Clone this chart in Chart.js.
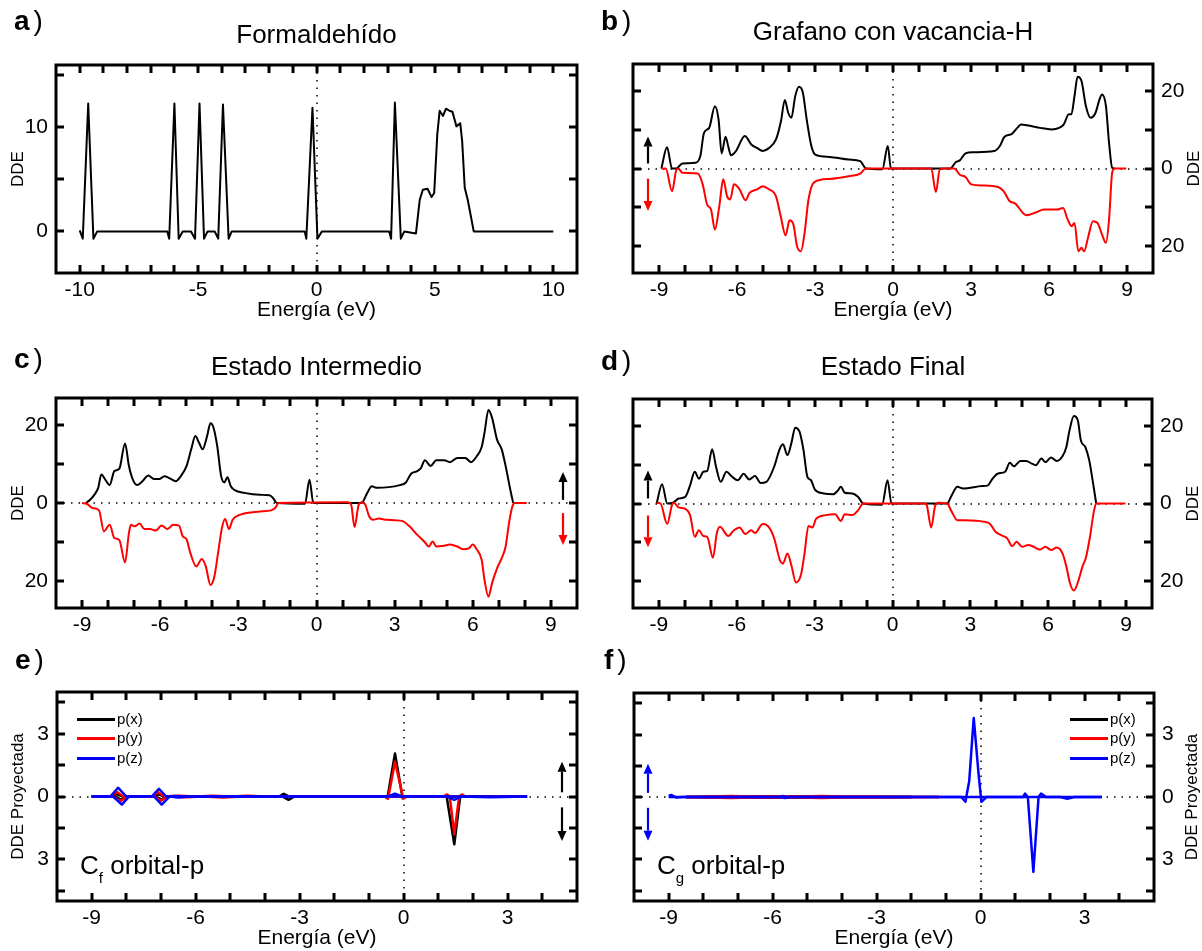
<!DOCTYPE html>
<html><head><meta charset="utf-8">
<script src="https://cdn.jsdelivr.net/npm/chart.js@4.4.1/dist/chart.umd.min.js"></script>
<style>
html,body{margin:0;padding:0;background:#fff;}
body{width:1202px;height:951px;position:relative;overflow:hidden;font-family:"Liberation Sans",Arial,sans-serif;color:#000;}
.lbl{position:absolute;white-space:nowrap;line-height:1;}
.ttl{position:absolute;white-space:nowrap;line-height:1;text-align:center;width:500px;font-size:26px;}
.lg{position:absolute;height:3px;}
</style></head><body>
<script>
// ---------------- DATA ----------------
// Panel a: Formaldehído  [energy eV, DOS]
const aDOS = [[-10.0,0.1],[-9.87,-0.7],[-9.64,12.3],[-9.42,-0.7],[-9.26,0],[-6.3,0],[-6.22,-0.7],[-6.0,12.3],[-5.82,-0.7],[-5.65,0],[-5.3,0],[-5.13,-0.7],[-4.94,12.3],[-4.75,-0.7],[-4.6,0],[-4.3,0],[-4.15,-0.7],[-3.95,12.2],[-3.71,-0.7],[-3.58,0],[-0.5,0],[-0.43,-0.7],[-0.17,11.9],[0.04,-0.7],[0.23,0],[3.07,0],[3.15,-0.7],[3.31,12.4],[3.56,-0.7],[3.71,0],[4.2,-0.2],[4.36,3.05],[4.49,4.0],[4.69,4.1],[4.86,3.3],[4.97,3.7],[5.1,9.3],[5.2,11.6],[5.34,11.1],[5.47,11.8],[5.61,11.6],[5.74,11.5],[5.91,10.1],[6.07,10.4],[6.15,8.7],[6.26,4.2],[6.39,3.0],[6.64,0],[10.0,0]];

// Panel b: Grafano con vacancia-H (spin up / spin down)
const bUp = [[-8.91,0],[-8.69,5.5],[-8.5,0],[-8.33,0],[-8.1,1.3],[-7.59,1.5],[-7.41,3.2],[-7.27,9.2],[-7.07,10.5],[-6.85,16.1],[-6.71,12.7],[-6.59,3.9],[-6.44,8.2],[-6.34,5.8],[-6.23,3.4],[-6.04,4.5],[-5.7,8.4],[-5.45,6.2],[-5.23,5.3],[-5.01,4.5],[-4.79,5.2],[-4.5,7.5],[-4.31,12.2],[-4.16,17.7],[-4.03,14.4],[-3.91,13.1],[-3.76,18.7],[-3.62,21.1],[-3.47,19.7],[-3.32,12.7],[-3.14,5.8],[-2.99,3.6],[-2.44,3.0],[-1.7,2.3],[-1.26,1.9],[-1.04,0],[-0.41,-0.2],[-0.2,5.8],[-0.08,0],[2.2,0],[2.42,1.7],[2.57,2.1],[2.79,3.9],[3.08,4.2],[3.89,4.5],[4.11,5.8],[4.29,8.2],[4.56,8.9],[4.78,10.5],[4.92,11.4],[5.22,11.1],[5.66,10.5],[6.1,10.1],[6.39,10.5],[6.57,11.4],[6.76,14.0],[6.86,14.0],[6.98,18.7],[7.1,23.7],[7.25,22.6],[7.42,16.1],[7.6,13.1],[7.79,14.4],[7.94,17.8],[8.04,19.1],[8.19,16.1],[8.31,6.6],[8.43,0.2],[8.53,0]];
const bDn = [[-8.91,0],[-8.74,0],[-8.5,-5.9],[-8.33,-0.3],[-8.26,0],[-8.1,-1.1],[-7.51,-1.3],[-7.32,-4.1],[-7.15,-9.3],[-7.0,-10.6],[-6.85,-15.8],[-6.68,-9.7],[-6.53,-2.8],[-6.38,-7.2],[-6.26,-8.0],[-6.12,-4.1],[-5.9,-5.4],[-5.67,-8.2],[-5.52,-6.3],[-5.23,-5.4],[-5.01,-4.6],[-4.79,-5.3],[-4.5,-7.2],[-4.32,-12.3],[-4.13,-17.3],[-3.98,-13.4],[-3.83,-14.5],[-3.69,-20.1],[-3.54,-21.4],[-3.4,-16.6],[-3.25,-8.0],[-3.03,-3.5],[-2.44,-2.7],[-1.7,-2.0],[-1.26,-1.3],[-1.04,0],[1.47,0],[1.65,-6.1],[1.8,-0.2],[1.98,0],[2.35,0],[2.57,-1.6],[2.79,-2.2],[3.01,-4.1],[3.45,-4.4],[4.04,-4.8],[4.26,-5.9],[4.48,-8.4],[4.71,-9.1],[5.0,-11.5],[5.14,-12.1],[5.51,-11.3],[5.8,-10.6],[6.32,-10.6],[6.54,-10.2],[6.72,-13.2],[6.87,-14.9],[6.98,-14.1],[7.13,-21.4],[7.25,-20.5],[7.35,-21.4],[7.5,-17.9],[7.69,-13.6],[7.87,-14.1],[8.04,-17.1],[8.19,-19.2],[8.31,-13.2],[8.43,-1.1],[8.53,0],[8.97,0]];

// Panel c: Estado Intermedio
const cUp = [[-8.85,0],[-8.68,0.9],[-8.53,2.1],[-8.38,3.9],[-8.26,7.3],[-8.11,6.0],[-7.94,4.6],[-7.76,8.2],[-7.57,8.8],[-7.35,15.3],[-7.2,9.5],[-7.05,6.0],[-6.88,4.6],[-6.68,5.6],[-6.46,7.1],[-6.24,6.2],[-6.02,6.2],[-5.84,6.9],[-5.65,6.4],[-5.4,5.6],[-5.21,6.9],[-4.99,9.5],[-4.81,13.8],[-4.65,17.2],[-4.51,15.5],[-4.37,13.8],[-4.2,17.2],[-4.07,20.5],[-3.95,19.3],[-3.81,14.6],[-3.66,6.9],[-3.54,5.3],[-3.42,6.6],[-3.29,4.3],[-3.14,3.3],[-2.77,2.6],[-2.18,2.1],[-1.81,2.0],[-1.67,1.3],[-1.52,0],[-0.44,-0.2],[-0.27,6.0],[-0.12,0],[1.73,0],[1.95,2.6],[2.12,4.3],[2.32,3.9],[3.2,4.6],[3.42,5.2],[3.64,7.6],[3.87,8.2],[4.01,9.0],[4.16,11.0],[4.38,9.5],[4.6,11.0],[4.9,11.0],[5.12,10.5],[5.41,11.6],[5.71,11.6],[5.93,10.5],[6.15,12.0],[6.34,14.4],[6.45,18.1],[6.6,23.9],[6.74,21.9],[6.93,16.3],[7.11,13.8],[7.26,9.5],[7.44,3.4],[7.55,0]];
const cDn = [[-9.0,0],[-8.82,-0.2],[-8.6,-1.3],[-8.35,-1.9],[-8.16,-7.3],[-7.94,-5.6],[-7.76,-9.0],[-7.57,-9.5],[-7.35,-15.3],[-7.2,-7.7],[-7.12,-5.6],[-6.98,-6.0],[-6.79,-5.3],[-6.61,-6.7],[-6.39,-6.7],[-6.17,-7.1],[-5.95,-5.8],[-5.72,-6.7],[-5.5,-5.6],[-5.28,-5.8],[-5.13,-8.6],[-4.99,-9.3],[-4.84,-12.9],[-4.62,-16.3],[-4.4,-14.4],[-4.25,-16.3],[-4.07,-21.1],[-3.92,-18.9],[-3.78,-12.9],[-3.63,-6.4],[-3.51,-4.1],[-3.36,-6.7],[-3.22,-4.3],[-2.92,-3.0],[-2.18,-2.2],[-1.74,-1.9],[-1.59,-1.3],[-1.45,0],[1.21,0.2],[1.33,-0.4],[1.46,-6.2],[1.62,-0.4],[1.73,0.2],[1.87,-0.4],[2.02,-3.4],[2.17,-4.3],[2.39,-4.0],[2.69,-4.3],[3.28,-4.6],[3.57,-6.0],[3.87,-8.2],[4.16,-10.1],[4.31,-11.2],[4.46,-9.9],[4.6,-11.2],[4.9,-11.0],[5.12,-10.7],[5.41,-11.2],[5.64,-11.9],[5.86,-11.6],[6.0,-10.7],[6.15,-11.9],[6.34,-14.6],[6.45,-19.8],[6.6,-24.1],[6.74,-20.6],[6.93,-16.8],[7.11,-14.2],[7.26,-11.2],[7.41,-4.3],[7.55,-0.3],[7.63,0],[8.07,0]];

// Panel d: Estado Final
const dUp = [[-9.09,0],[-8.88,5.0],[-8.68,0],[-8.46,0.2],[-8.24,1.3],[-7.99,1.7],[-7.8,4.7],[-7.62,8.2],[-7.46,6.4],[-7.29,8.2],[-7.14,8.4],[-6.95,14.0],[-6.8,9.5],[-6.62,5.6],[-6.4,8.2],[-6.18,6.9],[-5.96,6.0],[-5.74,7.7],[-5.52,6.2],[-5.3,7.1],[-5.08,5.3],[-4.86,5.6],[-4.56,9.5],[-4.34,14.2],[-4.22,15.3],[-4.05,12.5],[-3.9,15.5],[-3.75,19.6],[-3.58,18.5],[-3.43,13.8],[-3.28,6.9],[-3.14,6.0],[-2.99,3.6],[-2.65,2.6],[-2.28,2.4],[-2.1,3.4],[-1.99,4.3],[-1.84,2.8],[-1.55,2.6],[-1.32,1.7],[-1.13,0],[-0.4,-0.3],[-0.19,6.0],[-0.04,0],[2.1,0],[2.28,2.1],[2.5,4.3],[2.72,3.9],[3.46,4.5],[3.68,4.7],[3.83,6.2],[4.05,7.7],[4.34,8.2],[4.52,10.5],[4.68,9.6],[4.93,11.0],[5.15,11.0],[5.37,10.3],[5.52,9.9],[5.74,11.6],[5.89,10.7],[6.11,11.9],[6.33,11.0],[6.55,12.2],[6.7,14.6],[6.81,18.5],[6.99,22.6],[7.14,21.5],[7.26,16.3],[7.43,14.6],[7.58,11.2],[7.73,5.2],[7.85,0]];
const dDn = [[-9.09,0.2],[-8.94,0],[-8.68,-5.3],[-8.5,-0.4],[-8.43,0.2],[-8.24,-1.0],[-7.95,-1.5],[-7.8,-3.0],[-7.62,-8.6],[-7.46,-6.9],[-7.29,-8.4],[-7.14,-8.6],[-6.92,-14.0],[-6.77,-7.7],[-6.65,-6.0],[-6.33,-8.4],[-6.11,-6.9],[-5.89,-6.2],[-5.67,-7.9],[-5.45,-6.9],[-5.3,-7.6],[-5.0,-5.3],[-4.78,-6.0],[-4.56,-9.0],[-4.34,-14.6],[-4.22,-15.5],[-4.05,-12.9],[-3.9,-15.9],[-3.72,-20.4],[-3.53,-18.5],[-3.39,-12.9],[-3.24,-5.8],[-3.09,-6.2],[-2.94,-3.9],[-2.58,-3.0],[-2.21,-2.8],[-1.99,-4.5],[-1.84,-2.8],[-1.55,-3.0],[-1.32,-1.7],[-1.13,0],[1.25,0],[1.32,-0.4],[1.49,-6.2],[1.65,-0.4],[1.77,0.2],[2.1,0],[2.28,-2.1],[2.5,-4.3],[2.8,-4.3],[3.53,-4.7],[3.75,-5.2],[3.97,-7.3],[4.19,-8.2],[4.42,-9.0],[4.61,-11.0],[4.78,-9.9],[5.0,-11.2],[5.23,-10.7],[5.45,-11.2],[5.67,-11.9],[5.89,-11.2],[6.11,-12.0],[6.33,-11.4],[6.55,-12.9],[6.7,-16.3],[6.84,-20.6],[6.99,-22.5],[7.17,-19.8],[7.32,-16.3],[7.46,-13.8],[7.61,-8.6],[7.76,-2.1],[7.85,0],[8.98,0]];

// Panel e: C_f orbital-p (projected DOS)
const ePxUp = [[-9,0],[-8.45,0],[-8.28,0.12],[-8.1,0],[-7.2,0],[-7.08,0.1],[-6.9,0],[-3.6,0],[-3.46,0.13],[-3.3,0],[-0.55,0],[-0.47,-0.08],[-0.25,2.06],[-0.03,-0.08],[0.05,0],[3.56,0]];
const ePxDn = [[-9,0],[-8.35,0],[-8.15,-0.15],[-7.95,0],[-7.15,0],[-6.98,-0.15],[-6.8,0],[-3.5,0],[-3.32,-0.16],[-3.15,0],[1.24,0],[1.46,-2.29],[1.63,0],[3.56,0]];
const ePyUp = [[-9,0],[-8.45,0],[-8.27,0.22],[-8.08,0],[-7.25,0],[-7.08,0.2],[-6.9,0],[-6.5,0.03],[-6,0],[-5.5,0.04],[-5,0],[-4.5,0.04],[-4,0],[-0.55,0],[-0.45,-0.1],[-0.25,1.66],[-0.01,-0.1],[0.1,0],[3.56,0]];
const ePyDn = [[-9,0],[-8.4,0],[-8.17,-0.22],[-7.97,0],[-7.2,0],[-7.0,-0.2],[-6.8,0],[-6.3,-0.04],[-5.8,0],[-5.2,-0.05],[-4.7,0],[1.15,0],[1.25,0.1],[1.33,0],[1.46,-1.8],[1.6,0],[1.68,0.1],[1.78,0],[3.56,0]];
const ePzUp = [[-9,0],[-8.46,0],[-8.24,0.42],[-8.0,0],[-7.27,0],[-7.06,0.37],[-6.85,0],[-6.6,0.03],[-6.3,0],[-0.45,0],[-0.25,0.13],[-0.05,0],[3.56,0]];
const ePzDn = [[-9,0],[-8.38,0],[-8.13,-0.39],[-7.92,0],[-7.2,0],[-6.98,-0.39],[-6.75,0],[-6.5,-0.05],[-6.2,0],[1.25,0],[1.46,-0.16],[1.65,0],[2.5,-0.03],[3.56,0]];

// Panel f: C_g orbital-p (projected DOS)
const fPxUp = [[-8.5,0],[-7.6,0.02],[-7.0,0.03],[-6.0,0.02],[-5.0,0.02],[-4.0,0.01],[-2.0,0]];
const fPxDn = [[-8.5,0],[-7.6,-0.02],[-7.0,-0.03],[-6.0,-0.02],[-5.0,-0.02],[-4.0,-0.01],[-2.0,0]];
const fPyUp = [[-8.5,0],[-7.8,0.03],[-7.2,0.05],[-6.6,0.02],[-5.8,0.04],[-5.2,0.02],[-4.6,0.05],[-4.0,0.02],[-3.2,0.02],[-2.2,0.01],[-1.2,0]];
const fPyDn = [[-8.5,0],[-7.8,-0.03],[-7.2,-0.05],[-6.6,-0.02],[-5.8,-0.03],[-5.2,-0.02],[-4.6,-0.05],[-4.0,-0.02],[-3.2,-0.02],[-2.2,-0.01],[-1.2,0]];
const fPzUp = [[-9,0.05],[-8.93,0.1],[-8.78,-0.03],[-8.6,0],[-5.8,0],[-5.7,0.05],[-5.6,0],[-0.56,0],[-0.44,-0.23],[-0.33,0.77],[-0.2,3.8],[-0.06,1.1],[0.02,-0.23],[0.17,0],[3.5,0]];
const fPzDn = [[-9,0],[-5.8,0],[-5.65,-0.05],[-5.5,0],[1.22,0],[1.28,0.16],[1.36,0],[1.52,-3.6],[1.67,0],[1.74,0.16],[1.89,0],[2.3,0],[2.5,-0.08],[2.7,0],[3.5,0]];

// Tick labels
const aXLabels = [-10, -5, 0, 5, 10];
const aYLabels = [0, 10];
const bcdXLabels = [-9, -6, -3, 0, 3, 6, 9];
const bcdYLabels = [-20, 0, 20];
const efXLabels = [-9, -6, -3, 0, 3];
const efYLabels = [-3, 0, 3];
const orbitalNames = ['p(x)', 'p(y)', 'p(z)'];
const panelTitles = ['Formaldehído', 'Grafano con vacancia-H', 'Estado Intermedio', 'Estado Final'];
const panelLetters = ['a', 'b', 'c', 'd', 'e', 'f'];

// ---------------- RENDERING ----------------
const FONT = '"Liberation Sans", Arial, sans-serif';
Chart.defaults.font.family = FONT;
Chart.defaults.color = '#000';
const BLACK = '#000000', RED = '#ff0000', BLUE = '#0000ff';

function pts(a) { return a.map(p => ({x: p[0], y: p[1]})); }
function has(list, v) { return list.some(l => Math.abs(l - v) < 1e-6); }
function stepTicks(min, max, step) {
  const out = [];
  for (let k = Math.ceil(min / step - 1e-9); k * step <= max + 1e-9; k++) {
    const v = Math.round(k * step * 1000) / 1000;
    if (v > min + 1e-9 && v < max - 1e-9) out.push({value: v});
  }
  return out;
}

const framePlugin = {
  id: 'frame',
  beforeDatasetsDraw(chart, _a, o) {
    const {ctx, chartArea: a} = chart; const x = chart.scales.x, y = chart.scales.y;
    ctx.save(); ctx.strokeStyle = '#000'; ctx.lineWidth = 1.5; ctx.setLineDash([1.5, 6]);
    ctx.beginPath();
    if (o.zeroH) { const py = Math.round(y.getPixelForValue(0)); ctx.moveTo(a.left, py); ctx.lineTo(a.right, py); }
    const px = Math.round(x.getPixelForValue(0)); ctx.moveTo(px, a.top); ctx.lineTo(px, a.bottom);
    ctx.stroke(); ctx.restore();
  },
  afterDraw(chart, _a, o) {
    const {ctx, chartArea: a} = chart; const x = chart.scales.x, y = chart.scales.y;
    ctx.save();
    ctx.setLineDash([]);
    (o.arrows || []).forEach(ar => {
      const px = Math.round(x.getPixelForValue(ar.x)), p0 = y.getPixelForValue(ar.from), p1 = y.getPixelForValue(ar.to);
      const dir = p1 < p0 ? -1 : 1, head = 10, hw = 4.5;
      ctx.strokeStyle = ar.color; ctx.fillStyle = ar.color; ctx.lineWidth = 2.2;
      ctx.beginPath(); ctx.moveTo(px, p0); ctx.lineTo(px, p1 - dir * head); ctx.stroke();
      ctx.beginPath(); ctx.moveTo(px, p1); ctx.lineTo(px - hw, p1 - dir * head); ctx.lineTo(px + hw, p1 - dir * head); ctx.closePath(); ctx.fill();
    });
    ctx.strokeStyle = '#000'; ctx.lineWidth = 3; ctx.lineCap = 'butt';
    const L = 8;
    ctx.beginPath();
    x.ticks.forEach(t => {
      const px = Math.round(x.getPixelForValue(t.value));
      ctx.moveTo(px, a.bottom); ctx.lineTo(px, a.bottom - L);
      ctx.moveTo(px, a.top); ctx.lineTo(px, a.top + L);
    });
    y.ticks.forEach(t => {
      const py = Math.round(y.getPixelForValue(t.value));
      ctx.moveTo(a.left, py); ctx.lineTo(a.left + L, py);
      ctx.moveTo(a.right, py); ctx.lineTo(a.right - L, py);
    });
    ctx.stroke();
    ctx.strokeRect(a.left, a.top, a.right - a.left, a.bottom - a.top);
    if (o.rightTitle) {
      ctx.font = '17px ' + FONT; ctx.fillStyle = '#000'; ctx.textAlign = 'center'; ctx.textBaseline = 'middle';
      ctx.translate(o.rightTitleX, (a.top + a.bottom) / 2); ctx.rotate(-Math.PI / 2);
      ctx.fillText(o.rightTitle, 0, 0);
    }
    ctx.restore();
  }
};

function lineDs(data, color, width, smooth) {
  return {data: pts(data), borderColor: color, backgroundColor: color, borderWidth: width,
    pointRadius: 0, fill: false, borderJoinStyle: 'round',
    tension: smooth ? 0.4 : 0, cubicInterpolationMode: smooth ? 'monotone' : 'default'};
}

function makePanel(cfg) {
  const R = cfg.region, A = cfg.area;
  const cv = document.createElement('canvas');
  cv.width = R[2]; cv.height = R[3];
  cv.style.cssText = `position:absolute;left:${R[0]}px;top:${R[1]}px;width:${R[2]}px;height:${R[3]}px`;
  document.body.appendChild(cv);
  const right = cfg.side === 'right';
  const padB = cfg.padB || 0;
  const xH = R[3] - A[3] - padB;
  const yW = right ? R[2] - A[2] : A[0];
  new Chart(cv, {
    type: 'line',
    data: {datasets: cfg.datasets},
    options: {
      responsive: false, animation: false, devicePixelRatio: 1, events: [],
      layout: {padding: {left: right ? A[0] : 0, right: right ? 0 : R[2] - A[2], top: A[1], bottom: padB}},
      plugins: {legend: {display: false}, tooltip: {enabled: false}, title: {display: false},
        frame: {zeroH: cfg.zeroH, arrows: cfg.arrows, rightTitle: right ? cfg.yTitle : null, rightTitleX: cfg.rightTitleX}},
      scales: {
        x: {type: 'linear', position: 'bottom', min: cfg.xr[0], max: cfg.xr[1],
          grid: {display: false, drawTicks: false}, border: {display: false},
          afterBuildTicks: s => { s.ticks = stepTicks(cfg.xr[0], cfg.xr[1], cfg.xStep); },
          ticks: {autoSkip: false, maxRotation: 0, minRotation: 0,
            padding: 5, font: {size: 21}, callback: v => has(cfg.xLabels, v) ? String(v) : ''},
          title: {display: !!cfg.xTitle, text: cfg.xTitle || '', font: {size: 21}, padding: {top: 0, bottom: cfg.xTitlePad || 0}},
          afterFit: s => { s.height = xH; }},
        y: {type: 'linear', position: right ? 'right' : 'left', min: cfg.yr[0], max: cfg.yr[1],
          grid: {display: false, drawTicks: false}, border: {display: false},
          afterBuildTicks: s => { s.ticks = stepTicks(cfg.yr[0], cfg.yr[1], cfg.yStep); },
          ticks: {autoSkip: false, padding: 8, font: {size: 21}, callback: v => has(cfg.yLabels, v) ? String(Math.abs(v)) : ''},
          title: {display: !right, text: cfg.yTitle, font: {size: 17}, padding: {top: 8, bottom: 0}},
          afterFit: s => { s.width = yW; }}
      }
    },
    plugins: [framePlugin]
  });
}

function spinPair(up, dn, smooth) { return [lineDs(dn, RED, 2, smooth), lineDs(up, BLACK, 2, smooth)]; }

makePanel({region: [0, 0, 601, 325], area: [56, 65, 577, 273], side: 'left', padB: 0, xTitlePad: 2,
  xr: [-11, 11], xStep: 1, xLabels: aXLabels, yr: [-4, 16], yStep: 5, yLabels: aYLabels,
  xTitle: 'Energía (eV)', yTitle: 'DDE', zeroH: false,
  datasets: [lineDs(aDOS, BLACK, 2, false)]});

makePanel({region: [601, 0, 601, 325], area: [32, 64, 552, 273], side: 'right', padB: 0, xTitlePad: 2,
  xr: [-10, 10], xStep: 1, xLabels: bcdXLabels, yr: [-27, 27], yStep: 10, yLabels: bcdYLabels,
  xTitle: 'Energía (eV)', yTitle: 'DDE', rightTitleX: 593, zeroH: true,
  arrows: [{x: -9.42, from: 1.3, to: 8.3, color: BLACK}, {x: -9.42, from: -2.6, to: -11, color: RED}],
  datasets: spinPair(bUp, bDn, true)});

makePanel({region: [0, 325, 601, 315], area: [56, 73, 577, 283], side: 'left',
  xr: [-10, 10], xStep: 1, xLabels: bcdXLabels, yr: [-27, 27], yStep: 10, yLabels: bcdYLabels,
  xTitle: null, yTitle: 'DDE', zeroH: true,
  arrows: [{x: 9.45, from: 0.8, to: 8.0, color: BLACK}, {x: 9.45, from: -2.6, to: -10.8, color: RED}],
  datasets: spinPair(cUp, cDn, true)});

makePanel({region: [601, 325, 601, 315], area: [32, 74, 551, 283], side: 'right',
  xr: [-10, 10], xStep: 1, xLabels: bcdXLabels, yr: [-27, 27], yStep: 10, yLabels: bcdYLabels,
  xTitle: null, yTitle: 'DDE', rightTitleX: 592, zeroH: true,
  arrows: [{x: -9.42, from: 1.3, to: 8.5, color: BLACK}, {x: -9.42, from: -3.1, to: -11.3, color: RED}],
  datasets: spinPair(dUp, dDn, true)});

function orbitalSets(pz, py, px) {
  return [lineDs(pz[0], BLUE, 2.5, false), lineDs(pz[1], BLUE, 2.5, false),
          lineDs(py[0], RED, 2.5, false), lineDs(py[1], RED, 2.5, false),
          lineDs(px[0], BLACK, 2.5, false), lineDs(px[1], BLACK, 2.5, false)];
}

makePanel({region: [0, 640, 601, 311], area: [57, 52, 577, 261], side: 'left', padB: 0, xTitlePad: 0,
  xr: [-10, 5], xStep: 1, xLabels: efXLabels, yr: [-5, 5], yStep: 1.5, yLabels: efYLabels,
  xTitle: 'Energía (eV)', yTitle: 'DDE Proyectada', zeroH: true,
  arrows: [{x: 4.58, from: 0.2, to: 1.66, color: BLACK}, {x: 4.58, from: -0.52, to: -2.13, color: BLACK}],
  datasets: orbitalSets([ePzUp, ePzDn], [ePyUp, ePyDn], [ePxUp, ePxDn])});

makePanel({region: [601, 640, 601, 311], area: [33, 53, 553, 261], side: 'right', padB: 0, xTitlePad: 0,
  xr: [-10, 5], xStep: 1, xLabels: efXLabels, yr: [-5, 5], yStep: 1.5, yLabels: efYLabels,
  xTitle: 'Energía (eV)', yTitle: 'DDE Proyectada', rightTitleX: 591, zeroH: true,
  arrows: [{x: -9.6, from: 0.2, to: 1.6, color: BLUE}, {x: -9.6, from: -0.52, to: -2.1, color: BLUE}],
  datasets: orbitalSets([fPzUp, fPzDn], [fPyUp, fPyDn], [fPxUp, fPxDn])});

// ---------------- TEXT OVERLAYS ----------------
function addDiv(cls, html, css) { const d = document.createElement('div'); d.className = cls; d.innerHTML = html; d.style.cssText += css; document.body.appendChild(d); return d; }
const letterPos = [[14, 7], [601, 7], [14, 345], [601, 347], [15, 646], [604, 646]];
panelLetters.forEach((l, i) => addDiv('lbl', `<b>${l}</b><span style="margin-left:4px">)</span>`, `left:${letterPos[i][0]}px;top:${letterPos[i][1]}px;font-size:28px;`));
const titlePos = [[316.5, 21], [893, 18], [316.5, 353], [893, 353]];
panelTitles.forEach((t, i) => addDiv('ttl', t, `left:${titlePos[i][0] - 250}px;top:${titlePos[i][1]}px;`));
addDiv('lbl', 'C<span style="font-size:15px;position:relative;top:9px;">f</span> orbital-p', 'left:80px;top:852px;font-size:26px;');
addDiv('lbl', 'C<span style="font-size:15px;position:relative;top:9px;">g</span> orbital-p', 'left:657px;top:852px;font-size:26px;');
const legendColors = [BLACK, RED, BLUE];
const legendRowsY = [719, 738, 758];
[[77, 117], [1070, 1110]].forEach(([lx, tx]) => {
  orbitalNames.forEach((n, i) => {
    addDiv('lg', '', `left:${lx}px;top:${legendRowsY[i] - 1.5}px;width:38px;background:${legendColors[i]};`);
    addDiv('lbl', n, `left:${tx}px;top:${legendRowsY[i] - 8}px;font-size:15px;`);
  });
});
</script>
</body></html>
